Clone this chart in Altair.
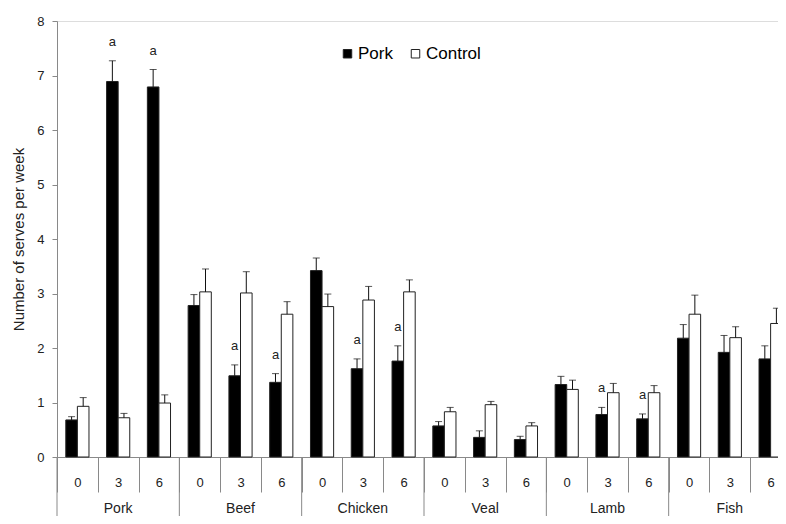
import altair as alt
import pandas as pd

categories = ["Pork", "Beef", "Chicken", "Veal", "Lamb", "Fish"]
times = ["0", "3", "6"]
series = ["Pork", "Control"]

pork_mean = [0.68, 6.89, 6.79, 2.78, 1.49, 1.37, 3.42, 1.62, 1.76,
             0.57, 0.36, 0.32, 1.33, 0.78, 0.70, 2.18, 1.92, 1.80]
pork_se = [0.06, 0.38, 0.32, 0.20, 0.20, 0.16, 0.23, 0.18, 0.28,
           0.08, 0.12, 0.06, 0.15, 0.13, 0.09, 0.25, 0.31, 0.24]
control_mean = [0.93, 0.72, 0.99, 3.03, 3.01, 2.62, 2.76, 2.88, 3.03,
                0.83, 0.96, 0.57, 1.24, 1.18, 1.18, 2.62, 2.19, 2.45]
control_se = [0.16, 0.08, 0.15, 0.42, 0.39, 0.23, 0.23, 0.25, 0.22,
              0.08, 0.06, 0.06, 0.17, 0.17, 0.13, 0.35, 0.20, 0.28]
pork_sig = ["", "a", "a", "", "a", "a", "", "a", "a",
            "", "", "", "", "a", "a", "", "", ""]

slots = [f"{c}|{t}" for c in categories for t in times]

rows = []
for k, slot in enumerate(slots):
    cat, t = slot.split("|")
    rows.append(dict(slot=slot, cat=cat, time=t, series="Pork",
                     mean=pork_mean[k], top=pork_mean[k] + pork_se[k], sig=pork_sig[k]))
    rows.append(dict(slot=slot, cat=cat, time=t, series="Control",
                     mean=control_mean[k], top=control_mean[k] + control_se[k], sig=""))
df = pd.DataFrame(rows)

cat_df = pd.DataFrame({"cat": categories,
                       "mid": [f"{c}|3" for c in categories],
                       "first": [f"{c}|0" for c in categories]})

W = 721          # visible plot width (chart continues past the right edge)
FULL_W = 734     # full band range for 18 slots
H = 436
FONT = "Liberation Sans"
GRAY = "#898989"

x_axis = alt.Axis(title=None, labelExpr="split(datum.value, '|')[1]", tickBand="extent",
                  tickSize=35, tickColor=GRAY, domainColor=GRAY, labelPadding=-16,
                  labelFontSize=13, labelAngle=0, labelColor="#222", labelFont=FONT)
x_scale = alt.Scale(domain=slots, paddingInner=0, paddingOuter=0, range=[0, FULL_W])
xo = alt.XOffset("series:N", scale=alt.Scale(domain=series, paddingInner=0, paddingOuter=0.76))

y_enc = alt.Y("mean:Q", scale=alt.Scale(domain=[0, 8]),
              axis=alt.Axis(title="Number of serves per week", values=list(range(9)), grid=False,
                            tickSize=5, labelPadding=8, tickColor=GRAY, domainColor=GRAY,
                            labelFontSize=13, labelColor="#222", labelFont=FONT,
                            titleFont=FONT, titleFontSize=15, titleFontWeight="normal",
                            titleColor="#222", titlePadding=10))

base = alt.Chart(df)

bars = base.mark_bar(stroke="#222", strokeWidth=1).encode(
    x=alt.X("slot:N", scale=x_scale, axis=x_axis),
    xOffset=xo,
    y=y_enc,
    fill=alt.Fill("series:N", scale=alt.Scale(domain=series, range=["#000000", "#ffffff"]),
                  legend=alt.Legend(title=None, orient="none", legendX=282, legendY=24,
                                    direction="horizontal", symbolType="square", symbolSize=72,
                                    symbolStrokeColor="#222", symbolStrokeWidth=1,
                                    labelFontSize=17, labelFont=FONT, labelColor="#000",
                                    columnPadding=14, labelOffset=2)),
)

err = base.mark_rule(color="#111", strokeWidth=1).encode(
    x=alt.X("slot:N", scale=x_scale, axis=x_axis),
    xOffset=xo,
    y=alt.Y("mean:Q"),
    y2="top:Q",
)

caps = base.mark_tick(color="#111", size=7, thickness=1, orient="horizontal").encode(
    x=alt.X("slot:N", scale=x_scale, axis=x_axis),
    xOffset=xo,
    y=alt.Y("top:Q"),
)

sig = base.transform_filter(alt.datum.sig != "").mark_text(
    dy=-15, fontSize=13, baseline="alphabetic", font=FONT, color="#222").encode(
    x=alt.X("slot:N", scale=x_scale, axis=x_axis),
    xOffset=xo,
    y=alt.Y("top:Q"),
    text="sig:N",
)

cat_labels = alt.Chart(cat_df).mark_text(fontSize=14, font=FONT, color="#222", baseline="middle").encode(
    x=alt.X("mid:N", scale=x_scale, axis=x_axis),
    y=alt.value(H + 52),
    text="cat:N",
)

cat_seps = alt.Chart(cat_df).mark_rule(color=GRAY, strokeWidth=1).encode(
    x=alt.X("first:N", scale=x_scale, axis=x_axis, bandPosition=0),
    y=alt.value(H),
    y2=alt.value(H + 75),
)

chart = alt.layer(bars, err, caps, sig, cat_seps, cat_labels).properties(
    width=W, height=H,
    autosize=alt.AutoSizeParams(type="none"),
    padding={"left": 49, "top": 13, "right": 0, "bottom": 59},
).configure_view(stroke=None).configure(background="white")

chart.save("out.html", embed_options={"renderer": "svg", "actions": False})
